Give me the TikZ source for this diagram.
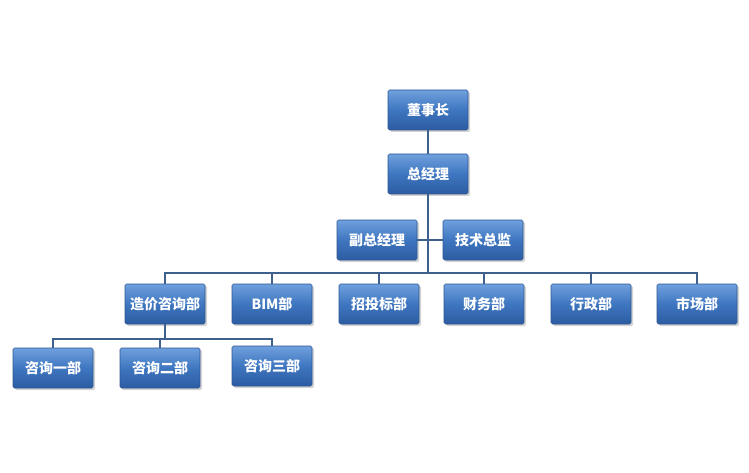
\documentclass[tikz,border=0pt]{standalone}
\usepackage{fontspec}
\newfontfamily\cjk{Noto Sans CJK SC}
\usetikzlibrary{shadows}
\definecolor{boxtop}{RGB}{112,160,222}
\definecolor{boxmid}{RGB}{62,118,192}
\definecolor{boxbot}{RGB}{44,92,162}
\definecolor{boxline}{RGB}{44,86,148}
\definecolor{wire}{RGB}{62,96,142}
\begin{document}
\begin{tikzpicture}[x=1pt, y=-1pt,
    unit/.style={rectangle, rounded corners=1.5pt, draw=boxline, line width=0.6pt,
        top color=boxtop, bottom color=boxbot, middle color=boxmid,
        minimum width=80pt, minimum height=40pt, inner sep=0pt,
        text=white, font=\cjk\bfseries\fontsize{14}{14}\selectfont,
        drop shadow={shadow xshift=2pt, shadow yshift=-2pt, opacity=0.35}},
    wire/.style={draw=wire, line width=1.6pt}]
    \useasboundingbox (0,0) rectangle (749,473);
    % top of the chart
    \node[unit] (dsz) at (428,110) {董事长};
    \node[unit] (zjl) at (428,174) {总经理};
    \node[unit] (fz)  at (377,240) {副总经理};
    \node[unit] (js)  at (483,240) {技术总监};
    % departments
    \node[unit] (zj)  at (165,304) {造价咨询部};
    \node[unit] (bim) at (272,304) {BIM部};
    \node[unit] (ztb) at (379,304) {招投标部};
    \node[unit] (cw)  at (484,304) {财务部};
    \node[unit] (xz)  at (591,304) {行政部};
    \node[unit] (sc)  at (697,304) {市场部};
    % consulting sections
    \node[unit] (zx1) at (53,368)  {咨询一部};
    \node[unit] (zx2) at (160,368) {咨询二部};
    \node[unit] (zx3) at (272,366) {咨询三部};
    \coordinate (busA) at (428,273);
    \coordinate (busB) at (165,339);
    % connectors
    \draw[wire] (dsz.south) -- (zjl.north);
    \draw[wire] (zjl.south) -- (busA);
    \draw[wire] (fz.east) -- (js.west);
    \draw[wire] (busA) -| (zj.north);
    \draw[wire] (busA) -| (bim.north);
    \draw[wire] (busA) -| (ztb.north);
    \draw[wire] (busA) -| (cw.north);
    \draw[wire] (busA) -| (xz.north);
    \draw[wire] (busA) -| (sc.north);
    \draw[wire] (zj.south) -- (busB);
    \draw[wire] (busB) -| (zx1.north);
    \draw[wire] (busB) -| (zx2.north);
    \draw[wire] (busB) -| (zx3.north);
\end{tikzpicture}
\end{document}
